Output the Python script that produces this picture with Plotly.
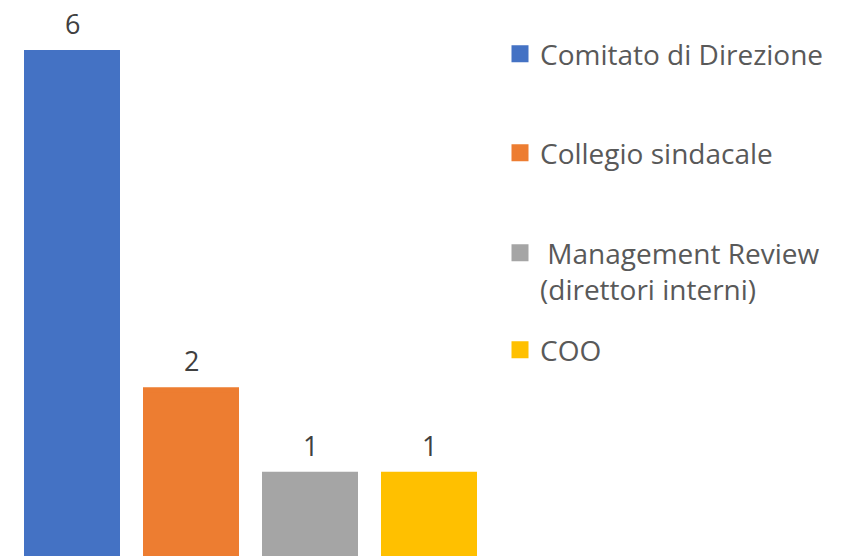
import plotly.graph_objects as go

categories = ["Comitato di Direzione", "Collegio sindacale",
              "Management Review (direttori interni)", "COO"]
legend_labels = ["Comitato di Direzione", "Collegio sindacale",
                 "\u00a0Management Review<br>(direttori interni)", "COO"]
values = [6, 2, 1, 1]
colors = ["#4472C4", "#ED7D31", "#A5A5A5", "#FFC000"]

W, H = 843, 556
plot_w = 496
FONT = "Open Sans"
FS = 28
LW = 5          # outline in the bar colour (also enlarges legend swatch)
PX_PER_UNIT = 84.33
STEP = 119
y0 = (LW / 2) / PX_PER_UNIT
first_center = 72

fig = go.Figure()
legend_centers = [54, 153, 271, 350]
for i, (cat, lab, v, c) in enumerate(zip(categories, legend_labels, values, colors)):
    lname = "legend" if i == 0 else f"legend{i+1}"
    fig.add_trace(go.Bar(
        x=[i], y=[v], name=lab, width=(96 - LW) / STEP,
        marker=dict(color=c, line=dict(width=LW, color=c)),
        legend=lname, hoverinfo="y",
    ))
    fig.add_annotation(x=i, y=v, text=str(v), showarrow=False,
                       yanchor="middle", yshift=29,
                       font=dict(family=FONT, size=27, color="#404040"))

legend_common = dict(x=(540 - 40) / plot_w, xanchor="left", yanchor="middle",
                     font=dict(family=FONT, size=FS, color="#595959"),
                     bgcolor="rgba(0,0,0,0)", valign="top", itemwidth=30)
layout_legends = {}
for i, yc in enumerate(legend_centers):
    key = "legend" if i == 0 else f"legend{i+1}"
    layout_legends[key] = dict(legend_common, y=1 - yc / H)

fig.update_layout(
    width=W, height=H,
    margin=dict(l=0, r=W - plot_w, t=0, b=0, autoexpand=False),
    plot_bgcolor="white", paper_bgcolor="white",
    showlegend=True,
    xaxis=dict(range=[-first_center / STEP, (plot_w - first_center) / STEP], visible=False),
    yaxis=dict(range=[y0, y0 + H / PX_PER_UNIT], visible=False),
    **layout_legends,
)

fig.write_html("out.html",
               config={"displayModeBar": False},
               post_script="document.body.style.margin='0';document.body.style.overflow='hidden';")
